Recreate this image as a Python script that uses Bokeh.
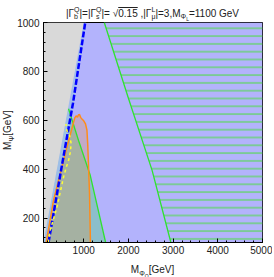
from bokeh.plotting import figure
from bokeh.models import SingleIntervalTicker, Div
from bokeh.layouts import column
from bokeh.embed import file_html
from bokeh.resources import INLINE

# ---------------- data (GeV) ----------------
x_range = (100, 5000)
y_range = (100, 1000)

# kinematically excluded: M_psi > M_PhiQ (gray)
gray_x = [100, 1000, 100]
gray_y = [100, 1000, 1000]

# blue dashed curve
blue_x = [212, 512, 760, 1034]
blue_y = [100, 415, 670, 1000]

# teal region boundary (green solid line)
teal_x = [660, 884, 1146, 1490]
teal_y = [647, 517, 375, 100]

# hatched region boundary (green solid line)
hatch_x = [1460, 2000, 2530, 2950]
hatch_y = [1000, 690, 395, 100]

# orange contour
orange_x = [160, 324, 474, 624, 772, 800, 830, 860, 880, 906, 930, 960, 1000, 1040, 1072, 1090, 1110, 1130, 1150]
orange_y = [100, 272, 382, 490, 592, 610, 618, 612, 622, 624, 612, 605, 598, 585, 560, 500, 400, 300, 100]

# yellow dashed curve
yellow_x = [205, 250, 400, 548, 609, 660, 698, 720, 683, 624, 600]
yellow_y = [100, 149, 244, 367, 408, 435, 469, 504, 538, 558, 585]

# ---------------- layout ----------------
W, H = 272, 274
BL, BT = 43, 22
FW, FH = 219, 220
BR = W - BL - FW
BB = H - BT - FH

p = figure(width=W, height=H, x_range=x_range, y_range=y_range,
           output_backend="svg", toolbar_location=None,
           min_border_left=BL, min_border_right=BR, min_border_top=BT, min_border_bottom=BB)
LAV = "#b3b3fc"
GREEN = "#2fe22f"
p.background_fill_color = LAV
p.border_fill_color = "white"
p.outline_line_color = "black"
p.grid.visible = False

# hatched region
hx = hatch_x + [x_range[1], x_range[1]]
hy = hatch_y + [y_range[0], y_range[1]]
p.patch(hx, hy, fill_color=LAV, line_color=None,
        hatch_pattern="horizontal_line", hatch_scale=7.8, hatch_color="#5ad85a", hatch_weight=1.2)

# teal region
tx = [100, 650] + teal_x
ty = [100, 650] + teal_y
p.patch(tx, ty, fill_color="#8cbecb", line_color=None)

# light blue band between kinematic line and blue curve
bx = [100, 1000] + [b + 20 for b in reversed(blue_x)]
by = [100, 1000] + list(reversed(blue_y))
p.patch(bx, by, fill_color="#9fbfea", line_color=None, fill_alpha=0.9)

# orange region fill
p.patch(orange_x, orange_y, fill_color="#f08a28", fill_alpha=0.25, line_color=None)

# gray excluded
p.patch(gray_x, gray_y, fill_color="#d9d9d9", line_color=None)

# lines
p.line(teal_x, teal_y, line_color=GREEN, line_width=1.3)
p.line(hatch_x, hatch_y, line_color=GREEN, line_width=1.3)
p.line(orange_x, orange_y, line_color="#ff8c1a", line_width=1.5)
p.line(blue_x, blue_y, line_color="#0000ff", line_width=2.5, line_dash="6 2")
p.line(yellow_x, yellow_y, line_color="#ffff33", line_width=1.5, line_dash="3 3")

# axes
for ax, iv in ((p.xaxis, 1000), (p.yaxis, 200)):
    ax.ticker = SingleIntervalTicker(interval=iv, num_minor_ticks=5)
    ax.major_tick_in = 4
    ax.major_tick_out = 0
    ax.minor_tick_in = 2
    ax.minor_tick_out = 0
    ax.axis_line_color = "black"
    ax.major_tick_line_color = "black"
    ax.minor_tick_line_color = "black"
    ax.major_label_text_font = "Liberation Sans"
    ax.major_label_text_font_size = "10px"
    ax.major_label_text_color = "#222222"
p.xaxis.major_label_standoff = 3
p.yaxis.major_label_standoff = 4

# ---------------- texts (HTML overlay, positions relative to figure bottom-left) ----------------
ST = "display:inline-block;vertical-align:-2.5px;font-size:7px;line-height:7px;text-align:left"
SB = "font-size:7px;vertical-align:-2.5px;line-height:0"
SSB = "font-size:5px;vertical-align:-1.5px;line-height:0"
BASE = "position:absolute;white-space:nowrap;font-family:'Liberation Sans';font-size:10px;line-height:12px;color:#222222"

title_html = (f"|Γ<span style='{ST}'>Q<br>b</span>|=|Γ<span style='{ST}'>Q<br>s</span>|= "
              f"√<span style='text-decoration:overline'>0.15</span> ,|Γ<span style='{ST}'>L<br>μ</span>|=3,"
              f"M<span style='{SB}'>Φ<span style='{SSB}'>L</span></span>=1100 GeV")
xlabel_html = f"M<span style='{SB}'>Φ<span style='{SSB}'>Q</span></span>[GeV]"
ylabel_html = f"M<span style='{SB}'>Ψ</span>[GeV]"

cx = BL + FW / 2  # frame centre (px)
top0 = H           # overlay origin is at figure bottom
html = (
    f"<div style=\"{BASE};left:0;width:{2 * cx:.1f}px;text-align:center;top:{6 - top0}px\">{title_html}</div>"
    f"<div style=\"{BASE};left:0;width:{2 * cx:.1f}px;text-align:center;top:{264 - top0}px\">{xlabel_html}</div>"
    f"<div style=\"{BASE};left:{7.5 - 30}px;width:60px;height:12px;text-align:center;"
    f"top:{130 - 6 - top0}px;transform:rotate(-90deg);transform-origin:50% 50%\">{ylabel_html}</div>"
)
overlay = Div(text=html, width=W, height=1, margin=(0, 0, 0, 0),
              styles={"overflow": "visible", "position": "relative", "z-index": "10"})

layout = column(p, overlay, spacing=0)

open("out.html", "w").write(file_html(layout, INLINE))
